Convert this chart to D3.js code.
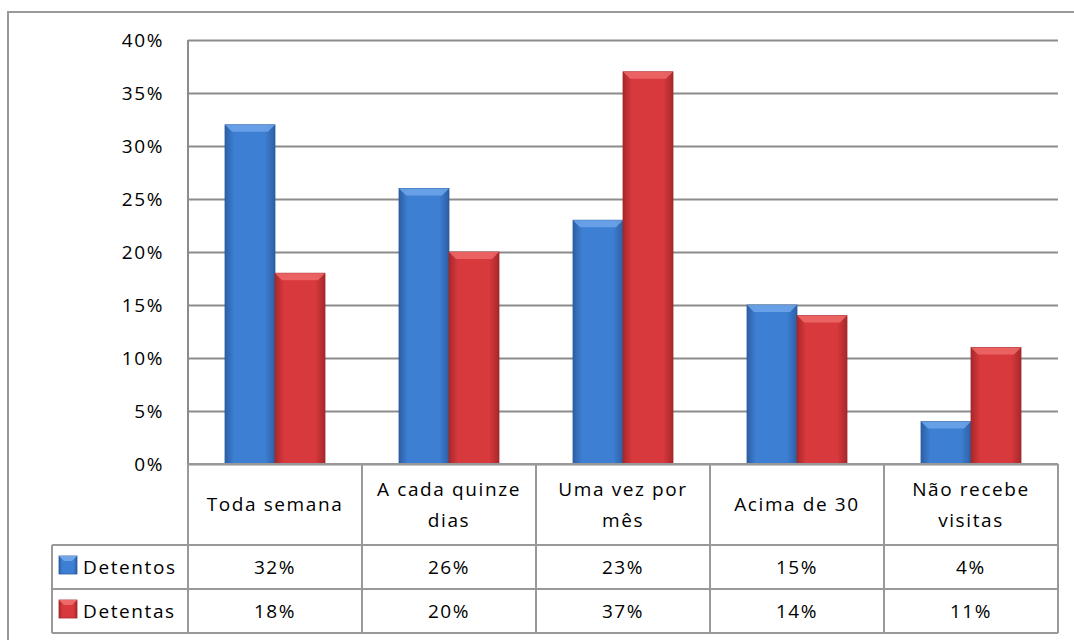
<!DOCTYPE html>
<meta charset="utf-8">
<style>
  body { margin: 0; background: #fff; }
  text { font-family: "Open Sans", sans-serif; font-size: 19px; fill: #000; letter-spacing: 1.6px; }
</style>
<body>
<script src="https://cdn.jsdelivr.net/npm/d3@7"></script>
<script>
  var categories = ["Toda semana", "A cada quinze dias", "Uma vez por mês", "Acima de 30", "Não recebe visitas"];
  var catLines = [["Toda semana"], ["A cada quinze", "dias"], ["Uma vez por", "mês"], ["Acima de 30"], ["Não recebe", "visitas"]];
  var seriesNames = ["Detentos", "Detentas"];
  var detentos = [0.32, 0.26, 0.23, 0.15, 0.04];
  var detentas = [0.18, 0.20, 0.37, 0.14, 0.11];
  var yTicks = [0, 0.05, 0.10, 0.15, 0.20, 0.25, 0.30, 0.35, 0.40];

  var width = 1074, height = 640;
  var plotLeft = 188, plotRight = 1058, plotTop = 40, plotBottom = 464;
  var catRowH = 81, rowH = 44, legendLeft = 52;

  var svg = d3.select("body").append("svg")
      .attr("width", width)
      .attr("height", height);

  var defs = svg.append("defs");
  // bar gradients: darker edges, lighter middle
  function grad(id, edge, mid) {
    var g = defs.append("linearGradient").attr("id", id)
        .attr("x1", 0).attr("x2", 1).attr("y1", 0).attr("y2", 0);
    g.append("stop").attr("offset", "0%").attr("stop-color", edge);
    g.append("stop").attr("offset", "18%").attr("stop-color", mid);
    g.append("stop").attr("offset", "80%").attr("stop-color", mid);
    g.append("stop").attr("offset", "100%").attr("stop-color", edge);
  }
  grad("gBlue", "#2d5fa6", "#3d7fd2");
  grad("gRed", "#a8282b", "#d8393c");
  var colors = [{fill: "url(#gBlue)", top: "#6fa6ea", line: "#2a5a9c"},
                {fill: "url(#gRed)", top: "#ee6a6a", line: "#9e2a2a"}];

  // outer frame
  svg.append("path")
      .attr("d", "M8," + height + "V12H" + width)
      .attr("fill", "none").attr("stroke", "#999").attr("stroke-width", 2);

  var x = d3.scaleBand().domain(categories).range([plotLeft, plotRight]);
  var y = d3.scaleLinear().domain([0, 0.4]).range([plotBottom, plotTop]);

  // gridlines
  svg.append("g")
      .attr("transform", "translate(" + plotLeft + ",0)")
      .call(d3.axisLeft(y).tickValues(yTicks).tickSize(-(plotRight - plotLeft)).tickFormat(""))
      .call(function(g) {
        g.select(".domain").remove();
        g.selectAll("line").attr("stroke", "#8c8c8c").attr("stroke-width", 2);
      });

  // y tick labels
  svg.append("g")
      .attr("transform", "translate(" + (plotLeft - 24) + ",0)")
      .call(d3.axisLeft(y).tickValues(yTicks).tickSize(0).tickFormat(d3.format(".0%")))
      .call(function(g) {
        g.select(".domain").remove();
        g.selectAll("text").attr("font-family", null).attr("font-size", null)
          .attr("fill", "#000").attr("dy", "0.35em").attr("x", 0);
      });

  // vertical axis line
  svg.append("line")
      .attr("x1", plotLeft).attr("x2", plotLeft).attr("y1", plotTop).attr("y2", plotBottom)
      .attr("stroke", "#8c8c8c").attr("stroke-width", 2);

  // bars
  var barW = 50;
  var series = [detentos, detentas];
  series.forEach(function(vals, si) {
    var g = svg.append("g");
    var bars = g.selectAll("g").data(categories).enter().append("g");
    bars.append("rect")
        .attr("x", function(d) { return x(d) + x.bandwidth() / 2 - barW + si * barW; })
        .attr("y", function(d, i) { return y(vals[i]); })
        .attr("width", barW)
        .attr("height", function(d, i) { return plotBottom - y(vals[i]); })
        .attr("fill", colors[si].fill)
        .attr("stroke", colors[si].line).attr("stroke-width", 0.8);
    // top bevel
    bars.append("path")
        .attr("d", function(d, i) {
          var x0 = x(d) + x.bandwidth() / 2 - barW + si * barW, y0 = y(vals[i]);
          return "M" + x0 + "," + y0 + "H" + (x0 + barW) + "L" + (x0 + barW - 7) + "," + (y0 + 7) +
                 "H" + (x0 + 7) + "Z";
        })
        .attr("fill", colors[si].top).attr("opacity", 0.85);
  });

  // data table
  var tbl = svg.append("g").attr("stroke", "#999").attr("stroke-width", 2).attr("fill", "none");
  var rowsBottom = plotBottom + catRowH + 2 * rowH;
  tbl.append("line").attr("x1", plotLeft).attr("x2", plotRight).attr("y1", plotBottom).attr("y2", plotBottom);
  [0, 1, 2].forEach(function(r) {
    var yy = plotBottom + catRowH + r * rowH;
    tbl.append("line").attr("x1", legendLeft).attr("x2", plotRight).attr("y1", yy).attr("y2", yy);
  });
  tbl.append("line").attr("x1", legendLeft).attr("x2", legendLeft)
      .attr("y1", plotBottom + catRowH).attr("y2", rowsBottom);
  tbl.selectAll(".v").data(categories.concat(["end"])).enter().append("line")
      .attr("x1", function(d, i) { return plotLeft + i * x.bandwidth(); })
      .attr("x2", function(d, i) { return plotLeft + i * x.bandwidth(); })
      .attr("y1", plotBottom).attr("y2", rowsBottom);

  // category labels
  svg.selectAll(".cat").data(categories).enter().append("text")
      .attr("text-anchor", "middle")
      .each(function(d, i) {
        var lines = catLines[i];
        var cy = plotBottom + catRowH / 2;
        var t = d3.select(this);
        lines.forEach(function(l, li) {
          t.append("tspan")
              .attr("x", x(d) + x.bandwidth() / 2)
              .attr("y", cy + (li - (lines.length - 1) / 2) * 31)
              .attr("dy", "0.35em")
              .text(l);
        });
      });

  // series rows
  series.forEach(function(vals, si) {
    var cy = plotBottom + catRowH + si * rowH + rowH / 2;
    svg.append("rect")
        .attr("x", 59).attr("y", cy - 11).attr("width", 18).attr("height", 18)
        .attr("fill", colors[si].fill).attr("stroke", colors[si].line).attr("stroke-width", 0.8);
    svg.append("path")
        .attr("d", "M59," + (cy - 11) + "h18l-5,5h-8z")
        .attr("fill", colors[si].top);
    svg.append("text").attr("x", 83).attr("y", cy).attr("dy", "0.35em").text(seriesNames[si]);
    svg.selectAll(".v" + si).data(categories).enter().append("text")
        .attr("text-anchor", "middle")
        .attr("x", function(d) { return x(d) + x.bandwidth() / 2; })
        .attr("y", cy).attr("dy", "0.35em")
        .text(function(d, i) { return d3.format(".0%")(vals[i]); });
  });
</script>
</body>
</html>
